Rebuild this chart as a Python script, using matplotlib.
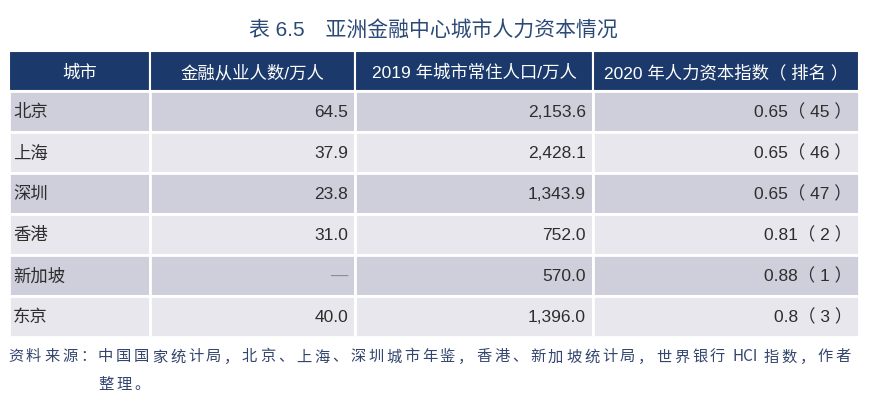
import re
import matplotlib.pyplot as plt
from matplotlib.patches import Rectangle

# table content
title = "表 6.5　亚洲金融中心城市人力资本情况"
headers = ["城市", "金融从业人数/万人", "2019 年城市常住人口/万人", "2020 年人力资本指数（ 排名 ）"]
cities = ["北京", "上海", "深圳", "香港", "新加坡", "东京"]
finance_emp = ["64.5", "37.9", "23.8", "31.0", "—", "40.0"]
population = ["2,153.6", "2,428.1", "1,343.9", "752.0", "570.0", "1,396.0"]
hci = ["0.65", "0.65", "0.65", "0.81", "0.88", "0.8"]
hci_rank = ["45", "46", "47", "2", "1", "3"]
source_line1 = "资料来源：中国国家统计局，北京、上海、深圳城市年鉴，香港、新加坡统计局，世界银行 HCI 指数，作者"
source_line2 = "整理。"

W, H = 874, 414
col_edges = [9, 150, 355, 593, 859]
header_top, header_bot = 52, 92
row_h = 41.0

HEADER_BG = "#1b3a6b"
ROW_DARK = "#cfcfdb"
ROW_LIGHT = "#e7e7ed"
TEXT = "#2e2e2e"
TITLE_C = "#2c4a78"
FONT = ["Liberation Sans", "Noto Sans CJK SC"]

fig = plt.figure(figsize=(W / 100, H / 100), dpi=100)
ax = fig.add_axes([0, 0, 1, 1])
ax.set_xlim(0, W)
ax.set_ylim(H, 0)
ax.axis("off")

ax.text(433, 31, title, ha="center", va="center", fontsize=15,
        color=TITLE_C, family=FONT)

# header
for i, h in enumerate(headers):
    x0, x1 = col_edges[i], col_edges[i + 1]
    ax.add_patch(Rectangle((x0, header_top), x1 - x0, header_bot - header_top,
                           facecolor=HEADER_BG, edgecolor="white", lw=1.5))
    ax.text((x0 + x1) / 2, (header_top + header_bot) / 2 + 1, h, ha="center",
            va="center", fontsize=12.5, color="white", family=FONT)

# body rows
for r, city in enumerate(cities):
    y0 = header_bot + r * row_h
    yc = y0 + row_h / 2
    bg = ROW_DARK if r % 2 == 0 else ROW_LIGHT
    for i in range(4):
        x0, x1 = col_edges[i], col_edges[i + 1]
        ax.add_patch(Rectangle((x0, y0), x1 - x0, row_h, facecolor=bg,
                               edgecolor="white", lw=2))
    cells = [city, finance_emp[r], population[r],
             f"{hci[r]}（ {hci_rank[r]} ）"]
    ax.text(col_edges[0] + 4, yc, cells[0], ha="left", va="center",
            fontsize=12.5, color=TEXT, family=FONT)
    for i in range(1, 4):
        color = "#8a8a8a" if cells[i] == "—" else TEXT
        ax.text(col_edges[i + 1] - 7, yc, cells[i], ha="right", va="center",
                fontsize=12.5, color=color, family=FONT)

# source note, spaced out like the printed page
def spaced(text, x, y, pitch=18.0):
    for tok in re.findall(r"[A-Za-z]+| |[^\x00-\x7f]", text):
        if tok == " ":
            x += 5
            continue
        ax.text(x, y, tok, ha="left", va="center", fontsize=11,
                color="#34466e", family=["Noto Sans CJK SC", "DejaVu Sans"])
        x += pitch if ord(tok[0]) > 255 else 8.5 * len(tok)

spaced(source_line1, 8, 357)
spaced(source_line2, 98, 385)

fig.savefig("out.png", dpi=100)
